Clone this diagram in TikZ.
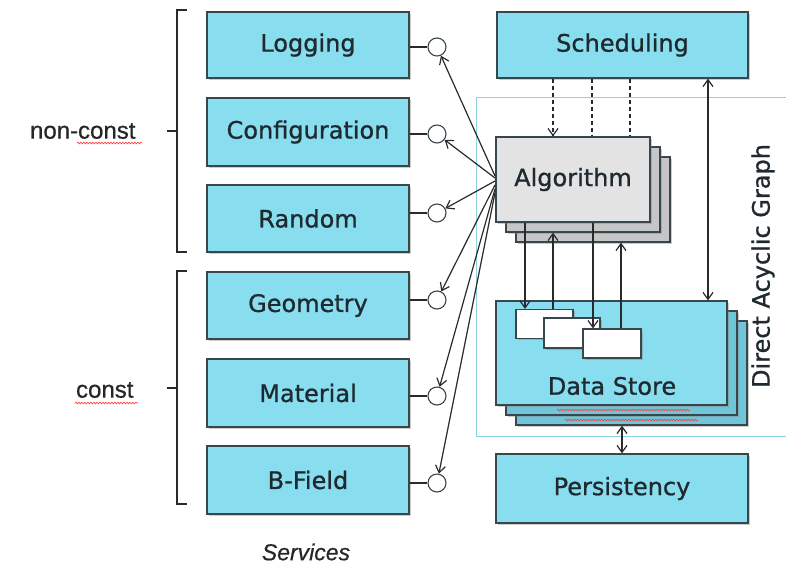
\documentclass[tikz,border=0pt]{standalone}
\usepackage{fontspec}
\setmainfont{DejaVu Sans}[FakeBold=0.9]
\newfontfamily\labfont{Liberation Sans}[FakeBold=0.6]
\usetikzlibrary{arrows.meta,shadows,decorations.pathmorphing}
\definecolor{boxcyan}{HTML}{88DDEE}
\definecolor{boxcyandk}{HTML}{6FC6D9}
\definecolor{edgecol}{HTML}{3A464E}
\definecolor{algofill}{HTML}{E3E3E3}
\definecolor{algodk}{HTML}{C6C6C6}
\definecolor{dagline}{HTML}{8AD4E4}
\definecolor{linecol}{HTML}{2A2A2A}
\definecolor{txt}{HTML}{1E2A30}
\begin{document}
\begin{tikzpicture}[x=1pt,y=-1pt,
  shd/.style={drop shadow={shadow xshift=1.8pt,shadow yshift=-1.8pt,opacity=0.4}},
  box/.style={draw=edgecol, line width=1.2pt, fill=boxcyan, shd, inner sep=0pt,
    font=\fontsize{24}{28}\selectfont, text=txt},
  dsback/.style={box, fill=boxcyandk},
  algo/.style={box, fill=algofill},
  algoback/.style={box, fill=algodk},
  smallbox/.style={draw=edgecol, line width=1.1pt, fill=white, shd, inner sep=0pt,
    minimum width=57pt, minimum height=29pt},
  port/.style={circle, draw=edgecol, line width=1.1pt, fill=white, minimum size=18pt, inner sep=0pt},
  arr/.style={draw=linecol, line width=1.2pt, -{Straight Barb[length=7pt,width=10pt]}},
  arrb/.style={draw=linecol, line width=1.2pt, {Straight Barb[length=7pt,width=10pt]}-{Straight Barb[length=7pt,width=10pt]}},
  plain/.style={draw=linecol, line width=1.2pt},
  brk/.style={draw=linecol, line width=1.6pt},
  dsh/.style={dash pattern=on 4pt off 3pt},
  squig/.style={draw=red!75, line width=0.7pt, decorate, decoration={snake, amplitude=0.8pt, segment length=3pt}},
  lab/.style={font=\labfont\fontsize{24}{28}\selectfont, text=black!85}
]
\useasboundingbox (0,0) rectangle (786,568);

% DAG frame
\draw[dagline, line width=1pt] (790,97) -- (476,97) -- (476,436) -- (790,436);
\node[rotate=90, font=\fontsize{24}{28}\selectfont, text=txt] (dagl) at (763,266) {Direct Acyclic Graph};

% services
\node[box, minimum width=202pt, minimum height=66pt] (log) at (308,45) {Logging};
\node[box, minimum width=202pt, minimum height=68pt] (conf) at (308,132) {Configuration};
\node[box, minimum width=202pt, minimum height=67pt] (rnd) at (308,218.5) {Random};
\node[box, minimum width=202pt, minimum height=67pt] (geo) at (308,305.5) {Geometry};
\node[box, minimum width=202pt, minimum height=68pt] (mat) at (308,393) {Material};
\node[box, minimum width=202pt, minimum height=68pt] (bf) at (308,480) {B-Field};

% ports
\node[port] (c1) at (437,47) {};
\node[port] (c2) at (437,134) {};
\node[port] (c3) at (437,213) {};
\node[port] (c4) at (437,300) {};
\node[port] (c5) at (437,396) {};
\node[port] (c6) at (437,483) {};
\draw[plain] (log.east |- c1) -- (c1);
\draw[plain] (conf.east |- c2) -- (c2);
\draw[plain] (rnd.east |- c3) -- (c3);
\draw[plain] (geo.east |- c4) -- (c4);
\draw[plain] (mat.east |- c5) -- (c5);
\draw[plain] (bf.east |- c6) -- (c6);

% right column boxes
\node[box, minimum width=251pt, minimum height=66pt] (sched) at (622.5,45) {Scheduling};
\node[box, minimum width=252pt, minimum height=69pt] (pers) at (622,488.5) {Persistency};

% algorithm stack
\node[algoback, minimum width=154pt, minimum height=85pt] (alg3) at (593,199.5) {};
\node[algoback, minimum width=154pt, minimum height=85pt] (alg2) at (583,189.5) {};
\node[algo, minimum width=154pt, minimum height=85pt] (alg) at (573,179.5) {Algorithm};

% data store stack
\node[dsback, minimum width=231pt, minimum height=104pt] (ds3) at (631.5,373) {};
\node[dsback, minimum width=231pt, minimum height=104pt] (ds2) at (621.5,363) {};
\node[box, minimum width=231pt, minimum height=104pt] (ds) at (611.5,353) {};
\node[font=\fontsize{24}{28}\selectfont, text=txt] (dsl) at (612,386) {Data Store};
\node[smallbox] (b1) at (544.5,324) {};
\node[smallbox, minimum width=56pt, minimum height=30pt] (b2) at (572,333) {};
\node[smallbox, minimum width=58pt, minimum height=29pt] (b3) at (612,343.5) {};

% spell-check squiggles
\draw[squig] (77,143) -- (142,143);
\draw[squig] (75,403) -- (138,403);
\draw[squig] (557,410) -- (690,410);
\draw[squig] (565,420) -- (698,420);

% scheduling to algorithm (dashed)
\draw[arr, dsh] (553,0 |- sched.south) -- (553,0 |- alg.north);
\draw[plain, dsh] (592,0 |- sched.south) -- (592,0 |- alg.north);
\draw[plain, dsh] (630,0 |- sched.south) -- (630,0 |- alg.north);

% algorithm <-> data store
\draw[arr] (525,0 |- alg.south) -- (525,0 |- b1.north);
\draw[arr] (553,0 |- b1.north) -- (553,0 |- alg2.south);
\draw[arr] (593,0 |- alg.south) -- (593,0 |- b3.north);
\draw[arr] (621,0 |- b3.north) -- (621,0 |- alg3.south);

\draw[arrb] (708,0 |- sched.south) -- (708,0 |- ds.north);
\draw[arrb] (622,0 |- ds3.south) -- (622,0 |- pers.north);

% algorithm to services
\coordinate (o1) at (495,176);
\coordinate (o2) at (495,178);
\coordinate (o3) at (495,181);
\coordinate (o4) at (495,185);
\coordinate (o5) at (495,189);
\coordinate (o6) at (495,193);
\draw[arr] (o1) -- (c1);
\draw[arr] (o2) -- (c2);
\draw[arr] (o3) -- (c3);
\draw[arr] (o4) -- (c4);
\draw[arr] (o5) -- (c5);
\draw[arr] (o6) -- (c6);

% brackets
\draw[brk] (187,10) -- (177,10) -- (177,252) -- (187,252);
\draw[brk] (167,131) -- (177,131);
\draw[brk] (187,271) -- (177,271) -- (177,504) -- (187,504);
\draw[brk] (167,388) -- (177,388);

\node[lab, anchor=east] (nc) at (139,131) {non-const};
\node[lab, anchor=east] (cs) at (137,390) {const};
\node[lab, font=\labfont\itshape\fontsize{23}{28}\selectfont] (svc) at (306,552) {Services};
\end{tikzpicture}
\end{document}
